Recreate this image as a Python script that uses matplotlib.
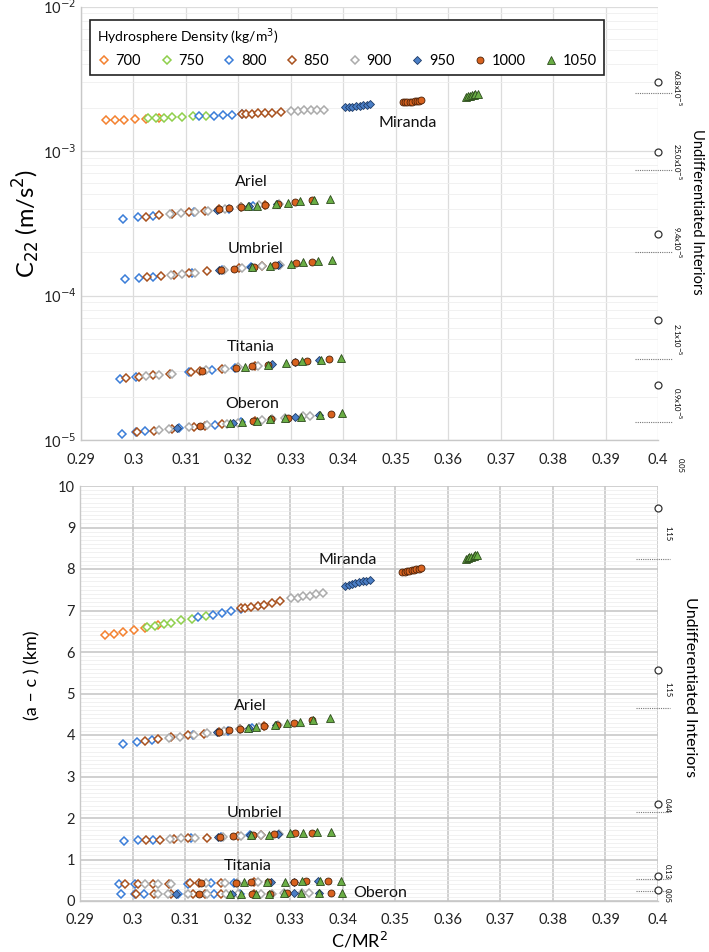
import matplotlib
matplotlib.use("Agg")
import matplotlib.pyplot as plt
from matplotlib.ticker import FixedLocator, FixedFormatter, NullFormatter, MultipleLocator, LogLocator
import numpy as np

plt.rcParams['font.family'] = ['Lato', 'DejaVu Sans']

densities = [700, 750, 800, 850, 900, 950, 1000, 1050]
C22_UNIT = 1e-5  # C22 values below are in units of 1e-5 m/s^2

# ---------------- Miranda ----------------
miranda_cmr = {
    700: [0.2948, 0.2965, 0.2982, 0.3002, 0.3023, 0.3048],
    750: [0.3027, 0.3043, 0.3059, 0.3074, 0.3093, 0.3114, 0.3139],
    800: [0.3125, 0.3154, 0.3170, 0.3188, 0.3206],
    850: [0.3207, 0.3214, 0.3226, 0.3238, 0.3251, 0.3265, 0.3281],
    900: [0.3301, 0.3314, 0.3325, 0.3338, 0.3350, 0.3363],
    950: [0.3404, 0.3411, 0.3417, 0.3424, 0.3431, 0.3438, 0.3445, 0.3451],
    1000: [0.3513, 0.3518, 0.3522, 0.3527, 0.3531, 0.3536, 0.3540, 0.3545, 0.3549],
    1050: [0.3634, 0.3638, 0.3641, 0.3645, 0.3649, 0.3652, 0.3656],
}
miranda_c22 = {
    700: [163.1, 163.6, 164.6, 166.1, 167.4, 168.7],
    750: [168.3, 169.1, 170.1, 171.1, 172.4, 173.4, 175.2],
    800: [174.4, 176.0, 177.0, 178.0, 179.3],
    850: [180.5, 180.7, 181.5, 182.0, 182.8, 183.8, 185.1],
    900: [189.5, 190.1, 190.8, 191.4, 192.1, 193.2],
    950: [201.0, 202.0, 203.0, 204.5, 206.0, 207.5, 209.0, 211.0],
    1000: [217.0, 218.0, 219.0, 219.5, 220.0, 221.0, 222.0, 223.0, 224.0],
    1050: [237.0, 239.0, 241.0, 243.0, 245.0, 247.0, 249.0],
}
miranda_ac = {
    700: [6.42, 6.44, 6.48, 6.54, 6.59, 6.64],
    750: [6.60, 6.63, 6.67, 6.71, 6.76, 6.80, 6.87],
    800: [6.84, 6.90, 6.94, 6.98, 7.03],
    850: [7.05, 7.06, 7.09, 7.11, 7.14, 7.18, 7.23],
    900: [7.29, 7.31, 7.34, 7.36, 7.39, 7.43],
    950: [7.60, 7.62, 7.64, 7.66, 7.68, 7.70, 7.72, 7.74],
    1000: [7.92, 7.93, 7.95, 7.96, 7.97, 7.98, 8.00, 8.01, 8.02],
    1050: [8.25, 8.27, 8.28, 8.30, 8.31, 8.33, 8.34],
}

# ---------------- Ariel ----------------
ariel_cmr = {
    800: [0.2981, 0.3009, 0.3037, 0.3116, 0.3182, 0.3227],
    850: [0.3024, 0.3049, 0.3074, 0.3106, 0.3136, 0.3164, 0.3205, 0.3251],
    900: [0.3069, 0.3091, 0.3117, 0.3142, 0.3174, 0.3205, 0.3240, 0.3277],
    950: [0.3160, 0.3221, 0.3273],
    1000: [0.3164, 0.3183, 0.3205, 0.3250, 0.3275, 0.3308, 0.3341],
    1050: [0.3219, 0.3235, 0.3272, 0.3294, 0.3318, 0.3344, 0.3375],
}
ariel_c22 = {
    800: [33.9, 34.7, 35.5, 37.9, 40.0, 41.5],
    850: [35.1, 35.9, 36.6, 37.6, 38.5, 39.4, 40.8, 42.4],
    900: [36.5, 37.1, 37.9, 38.7, 39.8, 40.8, 42.0, 43.3],
    950: [39.3, 41.3, 43.1],
    1000: [39.4, 40.1, 40.8, 42.3, 43.2, 44.4, 45.6],
    1050: [41.3, 41.8, 43.1, 43.9, 44.8, 45.7, 46.9],
}
ariel_ac = {
    800: [3.79, 3.83, 3.88, 4.00, 4.10, 4.17],
    850: [3.86, 3.90, 3.94, 3.99, 4.03, 4.08, 4.14, 4.21],
    900: [3.93, 3.96, 4.00, 4.04, 4.09, 4.14, 4.19, 4.25],
    950: [4.07, 4.16, 4.24],
    1000: [4.08, 4.11, 4.14, 4.21, 4.25, 4.30, 4.35],
    1050: [4.16, 4.19, 4.24, 4.28, 4.31, 4.35, 4.40],
}

# ---------------- Umbriel ----------------
umbriel_cmr = {
    800: [0.2983, 0.3010, 0.3038, 0.3112, 0.3168, 0.3224],
    850: [0.3025, 0.3052, 0.3078, 0.3106, 0.3141, 0.3201, 0.3245],
    900: [0.3071, 0.3093, 0.3118, 0.3172, 0.3207, 0.3245, 0.3279],
    950: [0.3163, 0.3224, 0.3276],
    1000: [0.3166, 0.3191, 0.3229, 0.3270, 0.3309, 0.3341],
    1050: [0.3226, 0.3260, 0.3300, 0.3324, 0.3351, 0.3378],
}
umbriel_c22 = {
    800: [12.94, 13.22, 13.52, 14.34, 14.98, 15.66],
    850: [13.38, 13.67, 13.95, 14.27, 14.67, 15.38, 15.93],
    900: [13.88, 14.12, 14.40, 15.03, 15.46, 15.93, 16.36],
    950: [14.92, 15.66, 16.32],
    1000: [14.96, 15.26, 15.73, 16.24, 16.75, 17.19],
    1050: [15.69, 16.12, 16.63, 16.95, 17.32, 17.70],
}
umbriel_ac = {
    800: [1.44, 1.46, 1.47, 1.52, 1.55, 1.58],
    850: [1.47, 1.48, 1.50, 1.51, 1.53, 1.57, 1.59],
    900: [1.49, 1.51, 1.52, 1.55, 1.57, 1.59, 1.61],
    950: [1.55, 1.58, 1.61],
    1000: [1.55, 1.56, 1.59, 1.61, 1.63, 1.65],
    1050: [1.58, 1.60, 1.63, 1.64, 1.66, 1.67],
}

# ---------------- Titania ----------------
titania_cmr = {
    800: [0.2975, 0.3005, 0.3105, 0.3150, 0.3193],
    850: [0.2985, 0.3011, 0.3038, 0.3069, 0.3109, 0.3126, 0.3168, 0.3232],
    900: [0.3024, 0.3048, 0.3073, 0.3139, 0.3175, 0.3199, 0.3238],
    950: [0.3264, 0.3308, 0.3353],
    1000: [0.3131, 0.3196, 0.3226, 0.3257, 0.3308, 0.3330, 0.3372],
    1050: [0.3213, 0.3256, 0.3290, 0.3322, 0.3357, 0.3396],
}
titania_c22 = {
    800: [2.661, 2.725, 2.949, 3.057, 3.162],
    850: [2.682, 2.738, 2.797, 2.866, 2.959, 2.999, 3.100, 3.262],
    900: [2.767, 2.820, 2.876, 3.030, 3.118, 3.178, 3.277],
    950: [3.345, 3.464, 3.589],
    1000: [3.011, 3.170, 3.246, 3.327, 3.464, 3.525, 3.644],
    1050: [3.213, 3.324, 3.415, 3.503, 3.601, 3.714],
}
titania_ac = {
    800: [0.40, 0.41, 0.42, 0.43, 0.44],
    850: [0.40, 0.41, 0.41, 0.42, 0.43, 0.43, 0.44, 0.45],
    900: [0.41, 0.41, 0.42, 0.43, 0.44, 0.44, 0.45],
    950: [0.45, 0.46, 0.47],
    1000: [0.43, 0.44, 0.45, 0.45, 0.46, 0.47, 0.48],
    1050: [0.45, 0.45, 0.46, 0.47, 0.47, 0.48],
}

# ---------------- Oberon ----------------
oberon_cmr = {
    800: [0.2978, 0.3004, 0.3022, 0.3087, 0.3155, 0.3205],
    850: [0.3007, 0.3040, 0.3074, 0.3115, 0.3137, 0.3169, 0.3232],
    900: [0.3049, 0.3067, 0.3106, 0.3141, 0.3178, 0.3200, 0.3245, 0.3265, 0.3289, 0.3323, 0.3336],
    950: [0.3083, 0.3189, 0.3308, 0.3354],
    1000: [0.3126, 0.3227, 0.3262, 0.3294, 0.3377],
    1050: [0.3185, 0.3207, 0.3235, 0.3260, 0.3288, 0.3320, 0.3355, 0.3398],
}
oberon_c22 = {
    800: [1.107, 1.130, 1.146, 1.207, 1.275, 1.327],
    850: [1.133, 1.163, 1.195, 1.234, 1.256, 1.289, 1.356],
    900: [1.171, 1.188, 1.226, 1.260, 1.298, 1.321, 1.369, 1.391, 1.419, 1.458, 1.473],
    950: [1.203, 1.310, 1.441, 1.494],
    1000: [1.245, 1.350, 1.388, 1.424, 1.522],
    1050: [1.306, 1.329, 1.359, 1.387, 1.418, 1.454, 1.495, 1.547],
}
oberon_ac = {
    800: [0.17, 0.17, 0.17, 0.18, 0.18, 0.18],
    850: [0.17, 0.17, 0.17, 0.18, 0.18, 0.18, 0.18],
    900: [0.17, 0.17, 0.18, 0.18, 0.18, 0.18, 0.18, 0.18, 0.19, 0.19, 0.19],
    950: [0.18, 0.18, 0.19, 0.19],
    1000: [0.18, 0.18, 0.18, 0.19, 0.19],
    1050: [0.18, 0.18, 0.18, 0.18, 0.19, 0.19, 0.19, 0.19],
}

# ---------------- Undifferentiated interiors ----------------
undiff_c22_point = [300.0, 98.0, 26.8, 6.73, 2.39]
undiff_c22_line = [252.0, 73.5, 20.0, 3.66, 1.33]
undiff_c22_text = ["60.8x10$^{-5}$", "25.0x10$^{-5}$", "9.4x10$^{-5}$", "2.1x10$^{-5}$", "0.9x10$^{-5}$"]
undiff_ac_point = [9.48, 5.57, 2.34, 0.60, 0.27]
undiff_ac_line = [8.23, 4.64, 2.15, 0.52, 0.24]
undiff_ac_text = ["1.15", "1.15", "0.44", "0.13", "0.05"]

x_ticks = [0.29, 0.30, 0.31, 0.32, 0.33, 0.34, 0.35, 0.36, 0.37, 0.38, 0.39, 0.40]
x_tick_labels = ["0.29", "0.3", "0.31", "0.32", "0.33", "0.34", "0.35", "0.36", "0.37", "0.38", "0.39", "0.4"]

moons = [
    ("Miranda", miranda_cmr, miranda_c22, miranda_ac),
    ("Ariel", ariel_cmr, ariel_c22, ariel_ac),
    ("Umbriel", umbriel_cmr, umbriel_c22, umbriel_ac),
    ("Titania", titania_cmr, titania_c22, titania_ac),
    ("Oberon", oberon_cmr, oberon_c22, oberon_ac),
]

styles = {
    700: dict(marker='D', ms=4.2, mfc='white', mec='#F4812F', mew=1.1),
    750: dict(marker='D', ms=4.2, mfc='white', mec='#8FCF4C', mew=1.1),
    800: dict(marker='D', ms=4.2, mfc='white', mec='#3B7DD8', mew=1.1),
    850: dict(marker='D', ms=4.2, mfc='white', mec='#A8511E', mew=1.1),
    900: dict(marker='D', ms=4.2, mfc='white', mec='#ABABAB', mew=1.1),
    950: dict(marker='D', ms=4.4, mfc='#4A7EC6', mec='#1E3B66', mew=0.6),
    1000: dict(marker='o', ms=5.0, mfc='#D8621E', mec='#4A220A', mew=0.6),
    1050: dict(marker='^', ms=5.6, mfc='#6AAE45', mec='#2C4A1C', mew=0.6),
}

W, H = 709, 952
fig = plt.figure(figsize=(W / 100, H / 100), dpi=100)
ax1 = fig.add_axes([81 / W, 1 - 440 / H, 577 / W, 433.5 / H])
ax2 = fig.add_axes([80 / W, 1 - 901 / H, 578 / W, 415 / H])

for ax in (ax1, ax2):
    for name, cmr, c22, ac in moons:
        for d in densities:
            if d not in cmr:
                continue
            yv = np.array(c22[d]) * C22_UNIT if ax is ax1 else ac[d]
            ax.plot(cmr[d], yv, linestyle='none', zorder=3,
                    label=str(d) if name == "Miranda" else None, **styles[d])
    ax.set_xlim(0.29, 0.40)
    ax.xaxis.set_major_locator(FixedLocator(x_ticks))
    ax.xaxis.set_major_formatter(FixedFormatter(x_tick_labels))
    ax.tick_params(axis='both', length=0, labelsize=10.5, colors='#222222')
    ax.tick_params(axis='x', pad=9)
    for s in ('top', 'right'):
        ax.spines[s].set_visible(False)
    for s in ('left', 'bottom'):
        ax.spines[s].set_color('#c8c8c8')
        ax.spines[s].set_linewidth(1.0)
    ax.set_axisbelow(True)

# ---- top panel ----
ax1.set_yscale('log')
ax1.set_ylim(1e-5, 1e-2)
ax1.yaxis.set_major_locator(FixedLocator([1e-5, 1e-4, 1e-3, 1e-2]))
ax1.yaxis.set_major_formatter(FixedFormatter(['10$^{-5}$', '10$^{-4}$', '10$^{-3}$', '10$^{-2}$']))
ax1.yaxis.set_minor_locator(LogLocator(base=10, subs=np.arange(2, 10)))
ax1.yaxis.set_minor_formatter(NullFormatter())
ax1.tick_params(axis='y', which='minor', length=0)
ax1.grid(which='major', color='#dcdcdc', lw=0.9)
ax1.grid(which='minor', axis='y', color='#efefef', lw=0.6)
ax1.set_ylabel('C$_{22}$ (m/s$^2$)', fontsize=17, va='center')
ax1.yaxis.set_label_coords(-0.094, 0.50)

# ---- bottom panel ----
ax2.set_ylim(0, 10)
ax2.yaxis.set_major_locator(MultipleLocator(1))
ax2.yaxis.set_minor_locator(MultipleLocator(0.1))
ax2.tick_params(axis='y', which='minor', length=0)
ax2.grid(which='major', color='#c4c4c4', lw=1.1)
ax2.grid(which='minor', axis='y', color='#ececec', lw=0.5)
ax2.set_ylabel('(a – c ) (km)', fontsize=13, va='center')
ax2.yaxis.set_label_coords(-0.083, 0.545)
ax2.set_xlabel('C/MR$^2$', fontsize=13, va='center')
ax2.xaxis.set_label_coords(0.484, -0.094)

# moon labels
top_label_pos = {"Miranda": (0.3522, 1.55e-3), "Ariel": (0.3224, 6.07e-4), "Umbriel": (0.3232, 2.09e-4),
                 "Titania": (0.3223, 4.41e-5), "Oberon": (0.3227, 1.77e-5)}
bot_label_pos = {"Miranda": (0.3409, 8.22), "Ariel": (0.3225, 4.71), "Umbriel": (0.3232, 2.12),
                 "Titania": (0.3220, 0.84), "Oberon": (0.3472, 0.20)}
for name, (x, y) in top_label_pos.items():
    ax1.text(x, y, name, fontsize=11.5, ha='center', va='center', color='#111111')
for name, (x, y) in bot_label_pos.items():
    ax2.text(x, y, name, fontsize=11.5, ha='center', va='center', color='#111111')

# undifferentiated interiors annotations
for p, l, t in zip(undiff_c22_point, undiff_c22_line, undiff_c22_text):
    ax1.plot([0.4], [p * C22_UNIT], marker='o', ms=5, mfc='white', mec='#333333', mew=0.9,
             linestyle='none', clip_on=False, zorder=5)
    ax1.plot([0.3957, 0.4026], [l * C22_UNIT, l * C22_UNIT], color='#777777', lw=0.8,
             linestyle=(0, (1, 1)), clip_on=False, zorder=4)
    ax1.annotate(t, xy=(0.4, np.sqrt(p * l) * C22_UNIT), xytext=(14, 0), textcoords='offset points',
                 rotation=-90, fontsize=5.5, ha='center', va='center', annotation_clip=False)
ac_text_y = [8.85, 5.10, 2.30, 0.72, 0.14]
for p, l, t, ty in zip(undiff_ac_point, undiff_ac_line, undiff_ac_text, ac_text_y):
    ax2.plot([0.4], [p], marker='o', ms=5, mfc='white', mec='#333333', mew=0.9,
             linestyle='none', clip_on=False, zorder=5)
    ax2.plot([0.3958, 0.4022], [l, l], color='#777777', lw=0.8,
             linestyle=(0, (1, 1)), clip_on=False, zorder=4)
    ax2.annotate(t, xy=(0.4, ty), xytext=(7, 0), textcoords='offset points',
                 rotation=-90, fontsize=5.5, ha='center', va='center', annotation_clip=False)

fig.text(680 / W, 1 - 465 / H, '0.05', rotation=-90, fontsize=5.5, ha='center', va='center')
fig.text(697 / W, 1 - 212 / H, 'Undifferentiated Interiors', rotation=-90, fontsize=10.5,
         ha='center', va='center')
fig.text(690 / W, 1 - 687 / H, 'Undifferentiated Interiors', rotation=-90, fontsize=11.5,
         ha='center', va='center')

# legend
leg = ax1.legend(loc='upper left', bbox_to_anchor=((90 - 81) / 577, (440 - 20) / 433.5),
                 ncol=8, title='Hydrosphere Density (kg/m$^3$)', fontsize=10.5, title_fontsize=10,
                 frameon=True, fancybox=False, edgecolor='#222222', framealpha=1,
                 handletextpad=0.3, columnspacing=1.25, handlelength=1.0, borderaxespad=0,
                 alignment='left', borderpad=0.45)
leg.get_frame().set_linewidth(1.2)

fig.savefig('out.png', dpi=100)
